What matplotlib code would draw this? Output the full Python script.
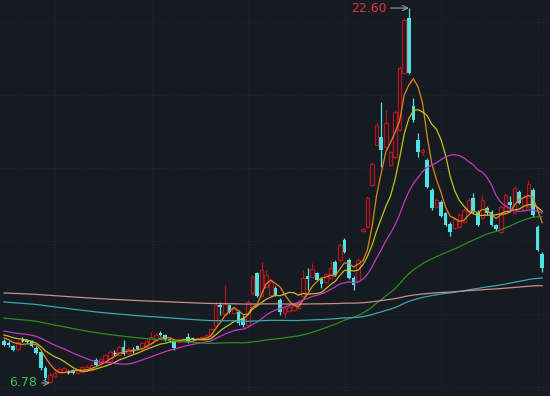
import matplotlib
matplotlib.use('Agg')
from matplotlib import pyplot as plt
import numpy as np
import pandas as pd

# daily candles (118 sessions)
opens = [8.55, 8.47, 8.34, 8.21, 8.59, 8.59, 8.55, 8.26, 8.09, 7.41,
         6.82, 7.07, 7.24, 7.24, 7.24, 7.32, 7.20, 7.24, 7.32, 7.32,
         7.75, 7.62, 7.66, 7.71, 8.04, 7.96, 8.30, 8.04, 8.17, 8.34,
         8.26, 8.30, 8.47, 8.59, 8.89, 8.80, 8.64, 8.55, 8.51, 8.55,
         8.72, 8.68, 8.64, 8.64, 8.64, 8.76, 9.18, 10.07, 9.69, 10.07,
         9.73, 9.77, 9.52, 9.22, 10.58, 11.42, 10.45, 10.83, 10.49, 10.79,
         10.28, 9.73, 9.82, 9.86, 9.94, 10.45, 11.29, 11.25, 11.42, 11.17,
         11.04, 11.21, 11.88, 11.97, 12.81, 11.97, 11.21, 11.08, 13.19, 13.36,
         15.13, 16.82, 17.16, 16.74, 15.97, 16.31, 17.45, 19.86, 22.18, 18.46,
         17.03, 16.52, 16.19, 14.92, 14.20, 14.42, 13.95, 13.49, 13.32, 13.36,
         13.57, 13.99, 14.58, 13.99, 13.74, 14.16, 13.99, 13.44, 13.15, 13.95,
         14.42, 13.95, 14.84, 14.08, 14.20, 14.92, 13.36, 12.22]
highs = [8.64, 8.55, 8.38, 8.59, 8.72, 8.64, 8.59, 8.34, 8.13, 7.50,
         7.24, 7.32, 7.45, 7.45, 7.32, 7.37, 7.37, 7.50, 7.54, 7.62,
         7.83, 7.83, 8.00, 8.17, 8.17, 8.38, 8.59, 8.30, 8.30, 8.38,
         8.51, 8.64, 8.93, 8.89, 8.97, 8.85, 8.68, 8.59, 8.64, 8.68,
         8.89, 8.72, 8.72, 8.76, 8.85, 9.10, 10.20, 10.20, 10.91, 10.11,
         9.94, 9.86, 9.65, 10.28, 11.34, 11.46, 11.88, 11.55, 11.12, 10.87,
         10.37, 9.99, 10.07, 10.11, 10.28, 11.55, 11.63, 11.84, 11.46, 11.25,
         11.42, 11.97, 11.97, 12.69, 12.90, 12.05, 11.29, 12.05, 13.32, 14.67,
         16.10, 17.79, 18.63, 18.30, 16.61, 18.30, 20.15, 22.18, 22.60, 18.80,
         17.33, 16.70, 16.27, 15.00, 14.58, 14.50, 13.99, 13.57, 13.74, 13.95,
         14.16, 14.58, 14.80, 14.08, 14.71, 14.25, 14.08, 13.49, 14.29, 14.80,
         14.67, 15.09, 14.92, 14.71, 15.34, 15.00, 13.44, 12.30]
lows = [8.34, 8.30, 8.13, 8.17, 8.51, 8.47, 8.30, 8.00, 7.32, 6.90,
        6.78, 7.03, 7.20, 7.20, 7.16, 7.16, 7.16, 7.20, 7.28, 7.28,
        7.50, 7.54, 7.62, 7.66, 7.92, 7.92, 7.96, 8.00, 8.04, 8.17,
        8.21, 8.26, 8.42, 8.55, 8.76, 8.55, 8.51, 8.17, 8.47, 8.51,
        8.47, 8.59, 8.59, 8.59, 8.59, 8.72, 9.14, 9.65, 9.65, 9.73,
        9.69, 9.22, 9.14, 9.18, 10.49, 10.41, 10.41, 10.79, 10.45, 10.45,
        9.65, 9.52, 9.77, 9.82, 9.90, 10.41, 10.70, 11.21, 11.08, 10.79,
        11.00, 11.17, 11.29, 11.88, 12.26, 11.17, 10.70, 11.04, 13.15, 13.32,
        15.09, 16.78, 15.89, 16.70, 15.93, 16.27, 17.41, 19.82, 19.82, 17.79,
        16.31, 16.40, 15.00, 14.08, 14.16, 13.78, 13.40, 12.98, 13.28, 13.32,
        13.53, 13.95, 13.95, 13.40, 13.70, 13.87, 13.40, 13.19, 13.11, 13.91,
        14.08, 13.91, 14.33, 14.04, 14.16, 13.78, 12.35, 11.46]
closes = [8.38, 8.38, 8.17, 8.51, 8.59, 8.51, 8.34, 8.04, 7.41, 6.99,
          7.12, 7.20, 7.37, 7.41, 7.24, 7.20, 7.32, 7.45, 7.45, 7.54,
          7.54, 7.79, 7.96, 8.09, 8.04, 8.30, 8.00, 8.21, 8.17, 8.21,
          8.47, 8.55, 8.72, 8.80, 8.80, 8.59, 8.55, 8.26, 8.64, 8.64,
          8.51, 8.64, 8.68, 8.72, 8.80, 9.06, 10.07, 9.99, 10.11, 9.77,
          9.90, 9.31, 9.22, 10.20, 11.25, 10.45, 11.55, 11.34, 11.04, 10.49,
          9.77, 9.94, 9.99, 10.07, 10.20, 11.21, 11.17, 11.59, 11.12, 10.96,
          11.38, 11.63, 11.34, 12.60, 12.30, 11.21, 10.91, 11.97, 13.28, 14.58,
          16.02, 17.66, 16.61, 17.75, 16.52, 18.21, 20.07, 22.09, 19.86, 17.87,
          16.52, 16.61, 15.05, 14.16, 14.50, 13.82, 13.44, 13.15, 13.70, 13.87,
          14.08, 14.50, 13.99, 13.44, 14.50, 13.95, 13.44, 13.28, 14.20, 14.71,
          14.29, 15.00, 14.37, 14.63, 15.17, 13.87, 12.39, 11.63]

# moving averages: period, value at the left edge, colour
ma_periods = [5, 10, 20, 60, 120, 250]
ma_start = [8.68, 8.80, 8.97, 9.52, 10.20, 10.58]
ma_colors = ['#e0861c', '#c8bd26', '#c13bc1', '#2d8c20', '#3ba6b2', '#c88e8e']

bg = '#161a21'
up_color = '#b0161f'
down_color = '#4fe2e2'
doji_color = '#d6d6d6'
grid_color = '#242831'


def moving_average(values, n, start):
    # sessions before the window are unknown, pad them so the first MA matches the chart
    pad = (n * start - values[0]) / (n - 1)
    s = pd.Series([pad] * (n - 1) + list(values))
    return s.rolling(n).mean().values[n - 1:]


o = np.array(opens)
h = np.array(highs)
l = np.array(lows)
c = np.array(closes)
x = np.arange(len(c))

fig = plt.figure(figsize=(5.5, 3.96), dpi=100, facecolor=bg)
ax = fig.add_axes([0, 0, 1, 1], facecolor=bg)
ax.set_xlim(-0.87, 118.7)
ax.set_ylim(6.23, 22.94)
for s in ax.spines.values():
    s.set_visible(False)
ax.set_xticks([])
ax.set_yticks([])

# dotted background grid
for fx in [0.1, 0.276, 0.451, 0.627, 0.802, 0.978]:
    ax.plot([fx, fx], [0, 1], transform=ax.transAxes, color=grid_color, lw=0.7, ls=(0, (1, 2)), zorder=0)
for fy in [0.944, 0.76, 0.576, 0.391, 0.207, 0.023]:
    ax.plot([0, 1], [fy, fy], transform=ax.transAxes, color=grid_color, lw=0.7, ls=(0, (1, 2)), zorder=0)

w = 0.8
up = c > o
down = c < o
flat = c == o

# falling days: solid cyan
ax.vlines(x[down], l[down], h[down], color=down_color, lw=0.9, zorder=2)
ax.bar(x[down], o[down] - c[down], bottom=c[down], width=w, color=down_color, lw=0, zorder=2)

# rising days: hollow red, wick stops at the body
ax.vlines(x[up], c[up], h[up], color=up_color, lw=0.9, zorder=2)
ax.vlines(x[up], l[up], o[up], color=up_color, lw=0.9, zorder=2)
ax.bar(x[up], c[up] - o[up], bottom=o[up], width=w, fill=False, edgecolor=up_color, lw=0.9, zorder=2)

# unchanged days
ax.vlines(x[flat], l[flat], h[flat], color=doji_color, lw=0.9, zorder=2)
ax.hlines(o[flat], x[flat] - w / 2, x[flat] + w / 2, color=doji_color, lw=0.9, zorder=2)

for n, start, col in zip(ma_periods, ma_start, ma_colors):
    ax.plot(x, moving_average(closes, n, start), color=col, lw=0.9, zorder=3)

i_hi = int(np.argmax(h))
i_lo = int(np.argmin(l))
ax.annotate('%.2f' % h[i_hi], xy=(i_hi, h[i_hi]), xytext=(-16, 0), textcoords='offset points',
            ha='right', va='center', color='#e5323b', fontsize=9,
            arrowprops=dict(arrowstyle='->', color='#9c9c9c', lw=0.8, shrinkA=1, shrinkB=0))
ax.annotate('%.2f' % l[i_lo], xy=(i_lo, l[i_lo]), xytext=(-9, 0), textcoords='offset points',
            ha='right', va='center', color='#2fc35a', fontsize=9,
            arrowprops=dict(arrowstyle='->', color='#9c9c9c', lw=0.8, shrinkA=1, shrinkB=0))

fig.savefig('out.png', dpi=100, facecolor=bg)
